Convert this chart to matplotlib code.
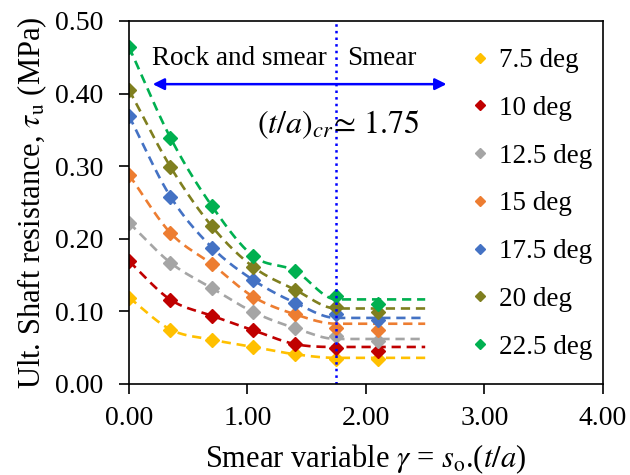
import numpy as np
import matplotlib
matplotlib.use("Agg")
from matplotlib import pyplot as plt

plt.rcParams['font.family'] = ['Liberation Serif', 'DejaVu Serif']
plt.rcParams['mathtext.fontset'] = 'stix'

# smear variable gamma values (x) for the tested points
gamma = [0.0, 0.35, 0.70, 1.05, 1.40, 1.75, 2.10]

labels = ['7.5 deg', '10 deg', '12.5 deg', '15 deg', '17.5 deg', '20 deg', '22.5 deg']
colors = ['#FFC000', '#C00000', '#A5A5A5', '#ED7D31', '#4472C4', '#7F7F1F', '#00B050']

# ultimate shaft resistance (MPa) for each joint angle
tau_75 = [0.119, 0.075, 0.061, 0.051, 0.041, 0.035, 0.034]
tau_10 = [0.169, 0.116, 0.094, 0.074, 0.055, 0.050, 0.045]
tau_125 = [0.222, 0.167, 0.132, 0.099, 0.077, 0.066, 0.059]
tau_15 = [0.288, 0.208, 0.165, 0.120, 0.096, 0.077, 0.074]
tau_175 = [0.369, 0.258, 0.188, 0.143, 0.112, 0.097, 0.088]
tau_20 = [0.405, 0.299, 0.217, 0.161, 0.130, 0.106, 0.099]
tau_225 = [0.464, 0.339, 0.245, 0.176, 0.156, 0.121, 0.110]
series = [tau_75, tau_10, tau_125, tau_15, tau_175, tau_20, tau_225]

# residual (plateau) level of each trend line beyond (t/a)cr
plateau = [0.036, 0.051, 0.062, 0.083, 0.091, 0.104, 0.1165]

gamma_cr = 1.75   # critical (t/a)
gamma_end = 2.5   # where the plateau lines stop


def smooth_trend(xk, yk, n=30):
    # cubic hermite through the knots, flat at the last knot
    xk = np.asarray(xk)
    yk = np.asarray(yk)
    d = np.zeros_like(yk)
    d[0] = (yk[1] - yk[0]) / (xk[1] - xk[0])
    d[1:-1] = (yk[2:] - yk[:-2]) / (xk[2:] - xk[:-2])
    d[-1] = 0.0
    xs, ys = [], []
    for i in range(len(xk) - 1):
        h = xk[i + 1] - xk[i]
        t = np.linspace(0, 1, n)
        h00 = 2 * t**3 - 3 * t**2 + 1
        h10 = t**3 - 2 * t**2 + t
        h01 = -2 * t**3 + 3 * t**2
        h11 = t**3 - t**2
        xs.append(xk[i] + t * h)
        ys.append(h00 * yk[i] + h10 * h * d[i] + h01 * yk[i + 1] + h11 * h * d[i + 1])
    return np.concatenate(xs), np.concatenate(ys)


fig = plt.figure(figsize=(6.3, 4.75), dpi=100)
ax = fig.add_axes([0.2048, 0.1916, 0.7522, 0.7642])

x = np.array(gamma)
for tau, c, col, lab in zip(series, plateau, colors, labels):
    y = np.array(tau)
    m = x < gamma_cr - 1e-9
    xs, ys = smooth_trend(list(x[m]) + [gamma_cr], list(y[m]) + [c])
    xs = np.append(xs, gamma_end)
    ys = np.append(ys, c)
    ax.plot(xs, ys, color=col, ls=(0, (3.5, 2.2)), lw=1.9)
    ax.plot(x, y, ls='none', marker='D', ms=7.3, color=col, label=lab)

ax.axvline(gamma_cr, color='#0000FF', ls=':', lw=1.8)
ax.annotate('', xy=(0.20, 0.413), xytext=(2.68, 0.413),
            arrowprops=dict(arrowstyle='<|-|>', color='#0000FF', lw=1.8,
                            mutation_scale=17, shrinkA=0, shrinkB=0))
ax.text(0.19, 0.449, 'Rock and smear', fontsize=19.5, va='center', ha='left')
ax.text(1.84, 0.449, 'Smear', fontsize=19.5, va='center', ha='left')
ax.text(1.08, 0.357, r'$(t/a)_{cr}\!\simeq\,1.75$', fontsize=23, va='center', ha='left')

ax.set_xlim(0, 4)
ax.set_ylim(0, 0.5)
ax.set_xticks([0, 1, 2, 3, 4])
ax.set_yticks([0, 0.1, 0.2, 0.3, 0.4, 0.5])
ax.xaxis.set_major_formatter(matplotlib.ticker.FormatStrFormatter('%.2f'))
ax.yaxis.set_major_formatter(matplotlib.ticker.FormatStrFormatter('%.2f'))
ax.tick_params(labelsize=20, length=7, width=1.2, direction='out')
ax.tick_params(axis='y', pad=11.5)
ax.tick_params(axis='x', pad=9)
for s in ax.spines.values():
    s.set_linewidth(1.2)

ax.set_xlabel(r'Smear variable $\gamma$ = $s_{\mathrm{o}}$.($t/a$)', fontsize=22, labelpad=8)
ax.set_ylabel(r'Ult. Shaft resistance, $\tau_{\mathrm{u}}$ (MPa)', fontsize=22, labelpad=4)

ax.legend(loc='upper left', bbox_to_anchor=(0.70, 0.955), frameon=False, fontsize=19.5,
          markerscale=0.65, handlelength=0.6, handletextpad=0.4, labelspacing=0.84,
          borderaxespad=0)

fig.savefig('out.png', dpi=100)
